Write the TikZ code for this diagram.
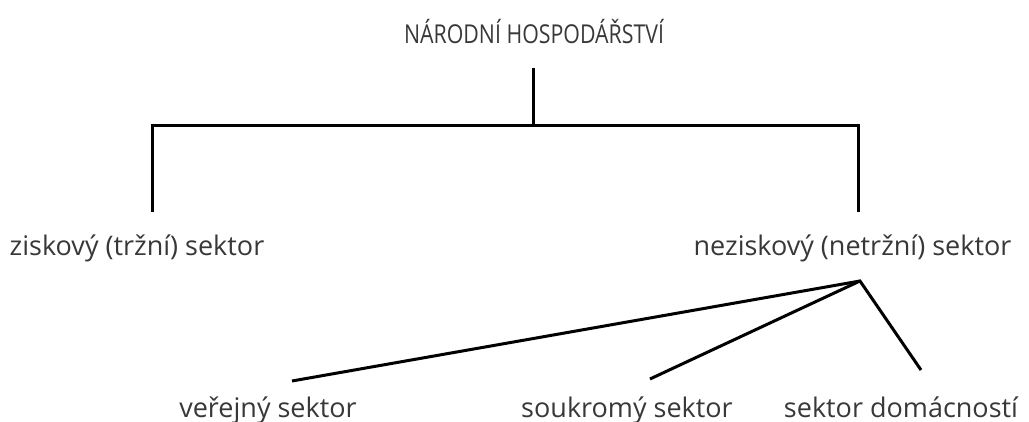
\documentclass[tikz,border=0pt]{standalone}
\usepackage{fontspec}
\setmainfont{Open Sans}
\newfontfamily\headfont[FakeStretch=0.82]{Open Sans}
\begin{document}
\begin{tikzpicture}[x=1pt,y=-1pt,
  lbl/.style={text=black!78, font=\fontsize{27}{31}\selectfont, inner sep=0pt, anchor=base},
  head/.style={lbl, font=\headfont\fontsize{26}{30}\selectfont},
  conn/.style={line width=3pt, black}]
\useasboundingbox (0,0) rectangle (1029,422);
% labels (anchored on their baselines)
\node[head] (root) at (534,44) {NÁRODNÍ HOSPODÁŘSTVÍ};
\node[lbl] (zisk) at (137,256) {ziskový (tržní) sektor};
\node[lbl] (nezisk) at (852.5,256) {neziskový (netržní) sektor};
\node[lbl] (verej) at (268,417) {veřejný sektor};
\node[lbl] (soukr) at (627,417) {soukromý sektor};
\node[lbl] (domac) at (901,417) {sektor domácností};
% tree junctions
\coordinate (rootdown) at (533,68);
\coordinate (bar) at (533,126);
\coordinate (barL) at (152,126);
\coordinate (barR) at (858,126);
\coordinate (ziskUp) at (152,212);
\coordinate (neziskUp) at (858,212);
\coordinate (apex) at (860,281);
\coordinate (verejUp) at (292,381);
\coordinate (soukrUp) at (650,379);
\coordinate (domacUp) at (921,370);
% connectors
\draw[conn] (rootdown) -- (bar);
\draw[conn] (ziskUp) -- (barL) -- (barR) -- (neziskUp);
\draw[conn, line join=miter] (verejUp) -- (apex) -- (domacUp);
\draw[conn] (apex) -- (soukrUp);
\end{tikzpicture}
\end{document}
